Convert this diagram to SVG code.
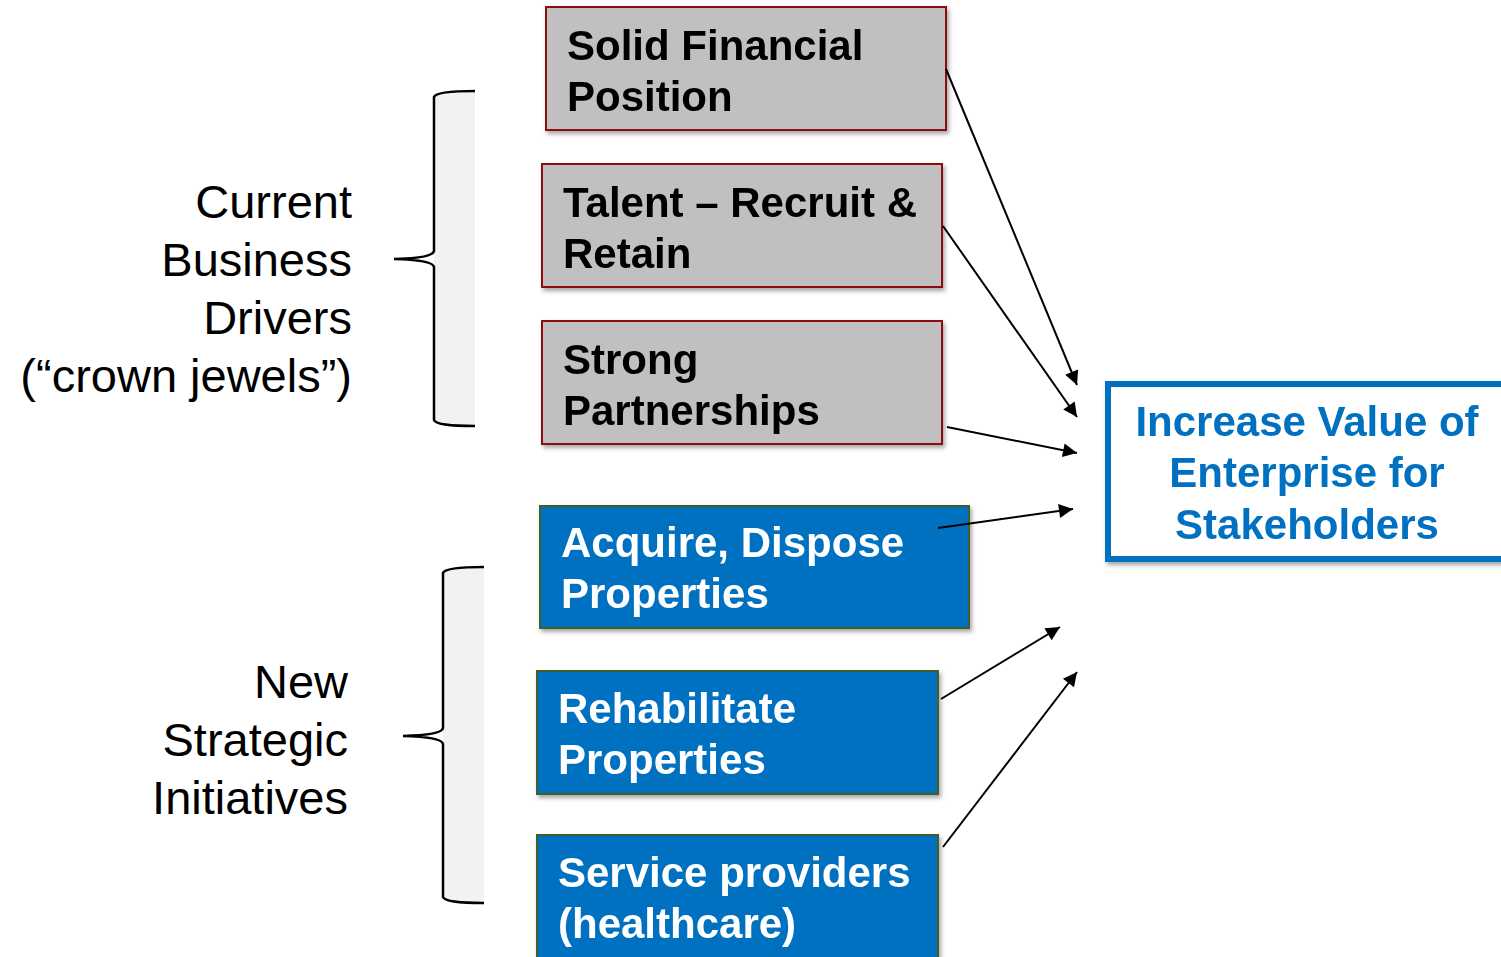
<svg xmlns="http://www.w3.org/2000/svg" width="1501" height="957" viewBox="0 0 1501 957">
<defs>
<filter id="sh" x="-10%" y="-10%" width="130%" height="130%">
<feDropShadow dx="2" dy="3" stdDeviation="2" flood-color="#000" flood-opacity="0.35"/>
</filter>
<marker id="ah" viewBox="0 0 10 10" refX="10" refY="5" markerWidth="8.5" markerHeight="7" markerUnits="strokeWidth" orient="auto">
<path d="M0,0 L10,5 L0,10 z" fill="#000"/>
</marker>
</defs>
<style>
.gray{fill:#C0C0C0;stroke:#8B0A0A;stroke-width:2}
.blue{fill:#0070C0;stroke:#3F5F2A;stroke-width:2}
.bt{font-family:"Liberation Sans",Arial,sans-serif;font-weight:bold;font-size:42px;fill:#000}
.wt{font-family:"Liberation Sans",Arial,sans-serif;font-weight:bold;font-size:42px;fill:#fff}
.tt{font-family:"Liberation Sans",Arial,sans-serif;font-weight:bold;font-size:42px;fill:#0070C0}
.lab{font-family:"Liberation Sans",Arial,sans-serif;font-size:47px;fill:#000}
.brace{fill:#F2F2F2;stroke:none}
.bline{fill:none;stroke:#000;stroke-width:2.5}
.conn{fill:none;stroke:#000;stroke-width:2;marker-end:url(#ah)}
</style>
<rect width="1501" height="957" fill="#fff"/>

<g id="label-current">
<text class="lab" text-anchor="end"><tspan x="352" y="218">Current</tspan><tspan x="352" y="276">Business</tspan><tspan x="352" y="334">Drivers</tspan><tspan x="352" y="392">(“crown jewels”)</tspan></text>
</g>
<g id="label-new">
<text class="lab" text-anchor="end"><tspan x="348" y="698">New</tspan><tspan x="348" y="756">Strategic</tspan><tspan x="348" y="814">Initiatives</tspan></text>
</g>

<g id="brace-top">
<path class="brace" d="M434,97 Q436,91 475,91 L475,426 Q436,426 434,420 Z"/>
<path class="bline" d="M475,91 Q436,91 434,97 L434,251 Q433,258 394,259 Q433,260 434,267 L434,420 Q436,426 475,426"/>
</g>
<g id="brace-bottom">
<path class="brace" d="M443,573 Q445,567 484,567 L484,903 Q445,903 443,897 Z"/>
<path class="bline" d="M484,567 Q445,567 443,573 L443,728 Q442,735 403,736 Q442,737 443,744 L443,897 Q445,903 484,903"/>
</g>

<g id="node-solid" filter="url(#sh)">
<rect class="gray" x="546" y="7" width="400" height="123"/>
<text class="bt"><tspan x="567" y="60">Solid Financial</tspan><tspan x="567" y="111">Position</tspan></text>
</g>
<g id="node-talent" filter="url(#sh)">
<rect class="gray" x="542" y="164" width="400" height="123"/>
<text class="bt"><tspan x="563" y="217">Talent – Recruit &amp;</tspan><tspan x="563" y="268">Retain</tspan></text>
</g>
<g id="node-strong" filter="url(#sh)">
<rect class="gray" x="542" y="321" width="400" height="123"/>
<text class="bt"><tspan x="563" y="374">Strong</tspan><tspan x="563" y="425">Partnerships</tspan></text>
</g>
<g id="node-acquire" filter="url(#sh)">
<rect class="blue" x="540" y="506" width="429" height="122"/>
<text class="wt"><tspan x="561" y="557">Acquire, Dispose</tspan><tspan x="561" y="608">Properties</tspan></text>
</g>
<g id="node-rehab" filter="url(#sh)">
<rect class="blue" x="537" y="671" width="401" height="123"/>
<text class="wt"><tspan x="558" y="723">Rehabilitate</tspan><tspan x="558" y="774">Properties</tspan></text>
</g>
<g id="node-service" filter="url(#sh)">
<rect class="blue" x="537" y="835" width="401" height="140"/>
<text class="wt"><tspan x="558" y="887">Service providers</tspan><tspan x="558" y="938">(healthcare)</tspan></text>
</g>
<g id="node-target" filter="url(#sh)">
<rect x="1108" y="384" width="420" height="175" fill="#fff" stroke="#0070C0" stroke-width="6"/>
<text class="tt" text-anchor="middle"><tspan x="1307" y="436">Increase Value of</tspan><tspan x="1307" y="487">Enterprise for</tspan><tspan x="1307" y="539">Stakeholders</tspan></text>
</g>

<g id="connectors">
<line class="conn" x1="946" y1="69" x2="1077" y2="385"/>
<line class="conn" x1="943" y1="226" x2="1077" y2="417"/>
<line class="conn" x1="947" y1="427" x2="1077" y2="453"/>
<line class="conn" x1="938" y1="528" x2="1073" y2="509"/>
<line class="conn" x1="941" y1="699" x2="1060" y2="627"/>
<line class="conn" x1="943" y1="847" x2="1077" y2="672"/>
</g>
</svg>
